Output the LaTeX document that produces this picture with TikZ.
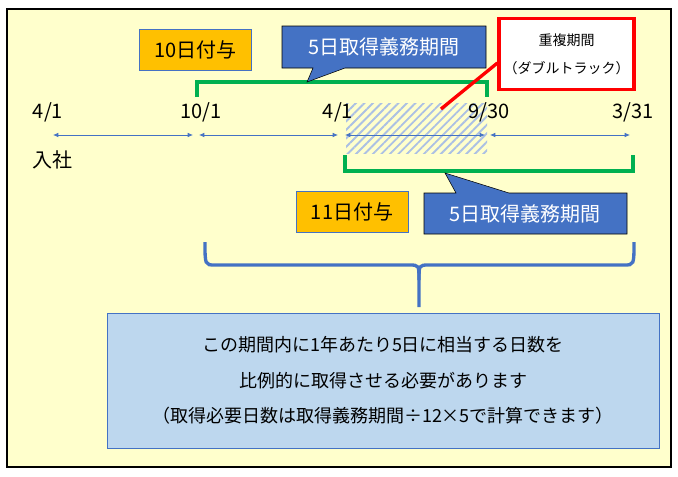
\documentclass[tikz,border=0pt]{standalone}
\usepackage{fontspec}
\setmainfont{Noto Sans CJK JP}
\usetikzlibrary{arrows.meta,patterns.meta}
\definecolor{bgyellow}{RGB}{255,255,204}
\definecolor{boxorange}{RGB}{255,192,0}
\definecolor{boxblue}{RGB}{68,114,196}
\definecolor{paleblue}{RGB}{189,215,238}
\definecolor{brgreen}{RGB}{0,176,80}
\tikzset{
  grantbox/.style={draw=boxblue,fill=boxorange,minimum width=84pt,minimum height=31pt,font=\fontsize{15}{17}\selectfont},
  duty/.style={fill=boxblue},
  datelbl/.style={font=\fontsize{15}{17}\selectfont},
  span/.style={boxblue,line width=0.6pt,{Latex[length=4pt,width=3.5pt]}-{Latex[length=4pt,width=3.5pt]}},
  bracket/.style={brgreen,line width=2.4pt},
}
\begin{document}
\begin{tikzpicture}[x=0.75pt,y=0.75pt,yscale=-1,xscale=1]
	\useasboundingbox (0,0) rectangle (678,476);

	%Frame
	\draw [fill=bgyellow,line width=0.9pt] (7,9) rectangle (671,467);

	%Overlap hatch
	\fill [pattern={Lines[angle=45,distance=4.5pt,line width=1.4pt]},pattern color=boxblue!45] (346,103) rectangle (487,153);

	%Green brackets
	\draw [bracket] (197,97) -- (197,82) -- (487,82) -- (487,97);
	\draw [bracket] (345,155) -- (345,171) -- (633,171) -- (633,155);

	%Callouts
	\draw [duty] (282,26) -- (486,26) -- (486,68) -- (345,68) -- (307,82) -- (313,68) -- (282,68) -- cycle;
	\node (duty1) at (384,47) [text=white,font=\fontsize{15}{17}\selectfont] {5日取得義務期間};
	\draw [duty] (424,193) -- (456,193) -- (445,173) -- (509,193) -- (627,193) -- (627,234) -- (424,234) -- cycle;
	\node (duty2) at (525,214) [text=white,font=\fontsize{15}{17}\selectfont] {5日取得義務期間};

	%Grant boxes
	\node (grant10) at (195.5,50) [grantbox] {10日付与};
	\node (grant11) at (352,212) [grantbox] {11日付与};

	%Double track
	\node (dbl) at (566.5,54) [draw=red,line width=2.5pt,fill=white,minimum width=97pt,minimum height=53pt,align=center,font=\fontsize{10.5}{21}\selectfont] {重複期間\\（ダブルトラック）};
	\coordinate (dblend) at (441,109);
	\draw [red,line width=2.5pt] (dblend) -- (dbl.west |- 0,63);

	%Dates
	\node (d1) at (48,112) [datelbl] {4/1};
	\node (d2) at (201,112) [datelbl] {10/1};
	\node (d3) at (338,112) [datelbl] {4/1};
	\node (d4) at (489,112) [datelbl] {9/30};
	\node (d5) at (633,112) [datelbl] {3/31};
	\node (join) at (52,160) [datelbl] {入社};

	%Spans
	\coordinate (a1) at (53,135); \coordinate (a2) at (193,135);
	\coordinate (a3) at (199,135); \coordinate (a4) at (338,135);
	\coordinate (a5) at (345,135); \coordinate (a6) at (485,135);
	\coordinate (a7) at (490,135); \coordinate (a8) at (630,135);
	\draw [span] (a1) -- (a2);
	\draw [span] (a3) -- (a4);
	\draw [span] (a5) -- (a6);
	\draw [span] (a7) -- (a8);

	%Brace
	\draw [boxblue,line width=2.5pt] (205,242) .. controls (205,265) .. (215,265) -- (409,265) .. controls (419,265) .. (419,280) -- (419,307);
	\draw [boxblue,line width=2.5pt] (634,242) .. controls (634,265) .. (624,265) -- (429,265) .. controls (419,265) .. (419,280);

	%Note
	\node (note) at (383,380.5) [draw=boxblue,fill=paleblue,minimum width=414pt,minimum height=101pt,align=center,font=\fontsize{13.5}{26.5}\selectfont] {この期間内に1年あたり5日に相当する日数を\\比例的に取得させる必要があります\\（取得必要日数は取得義務期間÷12×5で計算できます）};
\end{tikzpicture}
\end{document}
